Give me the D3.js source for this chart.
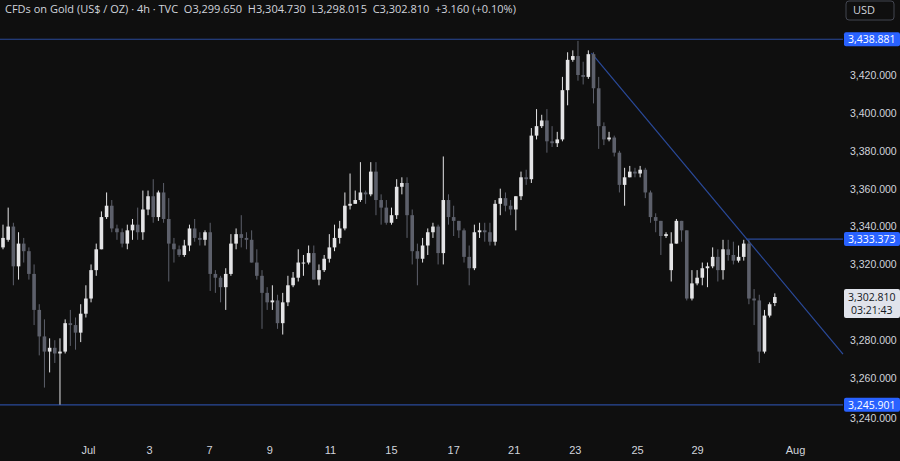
<!DOCTYPE html>
<html>
<head>
<meta charset="utf-8">
<script src="https://cdn.jsdelivr.net/npm/d3@7"></script>
<style>
  body { margin: 0; background: #0f0f0f; }
  svg { display: block; font-family: "Open Sans", "Noto Sans", sans-serif; }
</style>
</head>
<body>
<svg id="chart" width="900" height="461"></svg>
<script>
// 4h candles
var opens = [3329,3333,3340,3319,3331,3327,3315,3296,3282,3274,3276,3273,3274,3289,3288,3284,3294,3302,3317,3328,
  3345,3351,3339,3337,3331,3338,3341,3337,3349,3356,3345,3358,3344,3331,3328,3325,3330,3339,3334,3333,
  3337,3315,3313,3308,3315,3331,3336,3334,3333,3321,3314,3305,3300,3301,3289,3300,3309,3313,3321,3321,
  3326,3312,3317,3323,3329,3334,3339,3351,3352,3354,3358,3357,3369,3354,3350,3342,3346,3361,3363,3346,
  3327,3323,3330,3337,3340,3326,3354,3345,3343,3338,3324,3318,3337,3338,3337,3332,3352,3355,3351,3349,
  3356,3366,3365,3388,3393,3396,3385,3384,3386,3412,3428,3430,3420,3419,3431,3413,3393,3386,3387,3379,
  3362,3366,3369,3368,3370,3358,3345,3343,3335,3317,3331,3343,3338,3302,3310,3313,3318,3319,3324,3317,
  3328,3325,3322,3324,3331,3302,3301,3274,3293,3299.65];
var highs = [3341,3350,3342,3337,3334,3329,3320,3299,3291,3281,3280,3281,3291,3296,3292,3299,3309,3320,3331,3348,
  3358,3354,3341,3339,3341,3344,3350,3359,3359,3365,3359,3363,3355,3334,3330,3333,3341,3344,3337,3338,
  3342,3317,3314,3318,3336,3339,3346,3337,3338,3328,3317,3308,3309,3304,3305,3314,3316,3328,3325,3330,
  3330,3320,3325,3336,3341,3343,3358,3368,3359,3374,3359,3374,3374,3357,3354,3350,3365,3366,3366,3349,
  3331,3334,3339,3342,3341,3377,3357,3351,3343,3339,3330,3341,3342,3342,3342,3354,3360,3358,3354,3356,
  3369,3370,3392,3402,3399,3402,3393,3390,3419,3432,3433,3438,3427,3433,3432,3419,3395,3390,3388,3380,
  3371,3372,3371,3372,3371,3359,3347,3343,3337,3337,3344,3343,3338,3317,3317,3321,3321,3329,3328,3333,
  3333,3332,3330,3333,3333,3307,3304,3296,3300,3304.73];
var lows = [3328,3332,3309,3312,3321,3312,3288,3272,3255,3263,3268,3246,3273,3277,3275,3279,3292,3300,3314,3328,
  3344,3337,3333,3329,3328,3333,3333,3333,3346,3342,3343,3342,3311,3321,3324,3324,3327,3332,3330,3330,
  3306,3305,3300,3296,3314,3328,3329,3328,3321,3312,3286,3296,3296,3286,3283,3298,3308,3311,3314,3320,
  3312,3309,3316,3321,3327,3331,3338,3349,3352,3353,3352,3356,3346,3341,3341,3341,3344,3357,3334,3320,
  3309,3321,3325,3334,3320,3320,3341,3335,3334,3321,3309,3317,3334,3332,3330,3330,3346,3348,3346,3338,
  3354,3362,3363,3386,3392,3379,3382,3382,3385,3404,3427,3417,3415,3418,3405,3381,3383,3385,3377,3358,
  3351,3366,3366,3366,3355,3342,3337,3325,3334,3311,3331,3332,3301,3301,3309,3309,3308,3318,3311,3312,
  3322,3320,3321,3322,3299,3288,3268,3273,3292,3298.015];
var closes = [3334,3340,3319,3331,3327,3315,3296,3282,3274,3276,3273,3274,3289,3288,3284,3294,3302,3317,3328,3345,
  3351,3339,3337,3331,3338,3341,3337,3349,3356,3345,3358,3344,3331,3328,3325,3330,3339,3334,3333,3337,
  3315,3313,3308,3315,3331,3336,3334,3333,3321,3314,3305,3300,3301,3289,3300,3309,3313,3321,3321,3326,
  3312,3317,3323,3329,3334,3339,3351,3352,3354,3358,3357,3369,3354,3350,3342,3346,3361,3363,3346,3327,
  3323,3330,3337,3340,3326,3354,3345,3343,3338,3324,3318,3337,3338,3337,3332,3352,3355,3351,3349,3356,
  3366,3365,3388,3393,3396,3385,3384,3386,3412,3428,3430,3420,3419,3431,3413,3393,3386,3387,3379,3362,
  3366,3369,3368,3370,3358,3345,3343,3335,3336,3331,3343,3338,3302,3310,3313,3318,3319,3324,3317,3328,
  3325,3322,3324,3331,3302,3301,3274,3293,3299,3302.81];

var priceTicks = [3240,3260,3280,3320,3340,3360,3380,3400,3420]; // 3,300 sits under the last-price tag
var dateLabels = ["Jul","3","7","9","11","15","17","21","23","25","29","Aug"];
var datePos = [16.4,28.2,39.8,51.4,63.1,74.9,86.9,98.6,110.4,122.4,134,152.9]; // candle index
var levels = [3438.881, 3333.373, 3245.901];
var trendStart = [113.6, 3431.5], trendThrough = [143.6, 3333.4];
var header = "CFDs on Gold (US$ / OZ) · 4h · TVC  O3,299.650  H3,304.730  L3,298.015  C3,302.810  +3.160 (+0.10%)";

var svg = d3.select("#chart");
var W = 900, H = 461, plotR = 843;
var fmt = d3.format(",.3f");

var x = d3.scaleLinear().domain([0, 1]).range([3, 8.18]);
var y = d3.scaleLinear().domain([3240, 3420]).range([416, 75]);

svg.append("rect").attr("width", W).attr("height", H).attr("fill", "#0f0f0f");

// horizontal levels
var blue = "#2a4a9a";
svg.selectAll("line.level").data(levels).enter().append("line")
  .attr("x1", d => d === 3333.373 ? x(143.5) : 0).attr("x2", plotR)
  .attr("y1", d => y(d)).attr("y2", d => y(d))
  .attr("stroke", blue).attr("stroke-width", 1.2);

// trendline, extended to the right edge of the plot
var slope = (trendThrough[1] - trendStart[1]) / (trendThrough[0] - trendStart[0]);
var endI = x.invert(plotR);
svg.append("line")
  .attr("x1", x(trendStart[0])).attr("y1", y(trendStart[1]))
  .attr("x2", plotR).attr("y2", y(trendStart[1] + slope * (endI - trendStart[0])))
  .attr("stroke", blue).attr("stroke-width", 1.2);

// candles
var data = closes.map((c, i) => ({ i: i, o: opens[i], h: highs[i], l: lows[i], c: c }));
var up = "#e4e4e6", down = "#5d606b";
var g = svg.append("g");
g.selectAll("line.wick").data(data).enter().append("line")
  .attr("x1", d => x(d.i)).attr("x2", d => x(d.i))
  .attr("y1", d => y(d.h)).attr("y2", d => y(d.l))
  .attr("stroke", d => d.c >= d.o ? up : down).attr("stroke-width", 1);
g.selectAll("rect.body").data(data).enter().append("rect")
  .attr("x", d => x(d.i) - 1.8).attr("width", 3.6)
  .attr("y", d => y(Math.max(d.o, d.c)))
  .attr("height", d => Math.max(1, Math.abs(y(d.o) - y(d.c))))
  .attr("fill", d => d.c >= d.o ? up : down);

// price axis
var axisG = svg.append("g").attr("transform", "translate(" + (plotR + 7) + ",0)");
axisG.call(d3.axisRight(y).tickValues(priceTicks).tickFormat(fmt).tickSize(0));
axisG.select(".domain").remove();
axisG.selectAll("text").attr("fill", "#d1d4dc").attr("font-size", 10.5).attr("x", 0);
axisG.selectAll(".tick").filter(d => d === 3240).select("text").attr("dy", "0.55em");

// level tags
svg.selectAll("g.tag").data(levels).enter().append("g")
  .attr("transform", d => "translate(" + (plotR + 1) + "," + (y(d) - 7) + ")")
  .each(function(d) {
    var t = d3.select(this);
    t.append("rect").attr("width", 56).attr("height", 14).attr("rx", 2).attr("fill", "#2962ff");
    t.append("text").attr("x", 4).attr("y", 11).attr("fill", "#fff").attr("font-size", 10.5).text(fmt(d));
  });

// last price tag
var last = closes[closes.length - 1];
var lt = svg.append("g").attr("transform", "translate(" + (plotR + 1) + "," + (y(last) - 8) + ")");
lt.append("rect").attr("width", 56).attr("height", 29).attr("rx", 2).attr("fill", "#e0e3eb");
lt.append("text").attr("x", 4).attr("y", 12).attr("fill", "#131722").attr("font-size", 10.5).text(fmt(last));
lt.append("text").attr("x", 7).attr("y", 25).attr("fill", "#131722").attr("font-size", 10.5).text("03:21:43");

// time axis
var tx = svg.append("g").attr("transform", "translate(0,441)");
tx.call(d3.axisBottom(x).tickValues(datePos).tickFormat((d, i) => dateLabels[i]).tickSize(0));
tx.select(".domain").remove();
tx.selectAll("text").attr("fill", "#d1d4dc").attr("font-size", 11).attr("dy", "0.9em");

// header and currency box
svg.append("text").attr("x", 5).attr("y", 13).attr("fill", "#d1d4dc").attr("font-size", 11)
  .attr("xml:space", "preserve").text(header);
svg.append("rect").attr("x", 846).attr("y", 1).attr("width", 48).attr("height", 19).attr("rx", 3)
  .attr("fill", "none").attr("stroke", "#434651");
svg.append("text").attr("x", 853).attr("y", 14).attr("fill", "#d1d4dc").attr("font-size", 11).text("USD");
</script>
</body>
</html>
